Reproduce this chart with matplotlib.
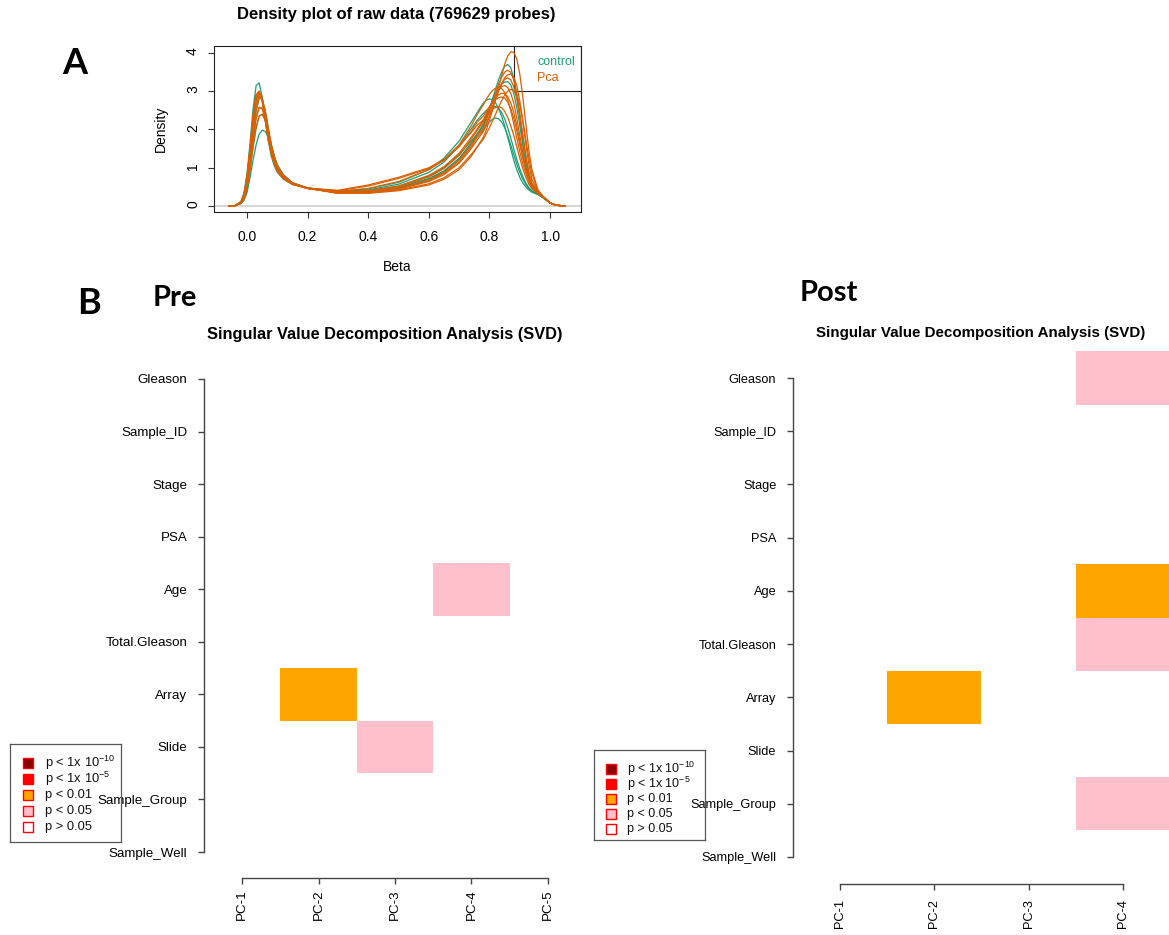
import matplotlib
matplotlib.use('Agg')
import matplotlib.pyplot as plt
from matplotlib.colors import ListedColormap, BoundaryNorm
from matplotlib.patches import Rectangle
import numpy as np

W, H = 1169, 935
plt.rcParams['font.family'] = ['Liberation Sans', 'DejaVu Sans']
plt.rcParams['mathtext.default'] = 'regular'

# ---- panel A: density curves (shared beta grid) ----
beta = [-0.06, -0.04, -0.02, -0.01, 0.00, 0.01, 0.02, 0.03, 0.04, 0.05, 0.06, 0.07,
        0.08, 0.09, 0.10, 0.12, 0.15, 0.20, 0.30, 0.40, 0.50, 0.60, 0.65, 0.70,
        0.74, 0.76, 0.78, 0.79, 0.80, 0.81, 0.82, 0.83, 0.84, 0.85, 0.86, 0.87,
        0.88, 0.89, 0.90, 0.91, 0.92, 0.93, 0.94, 0.96, 0.98, 1.00, 1.02, 1.05]

control_curves = [
    [0, 0.01, 0.12, 0.35, 0.85, 1.65, 2.55, 3.15, 3.22, 2.85, 2.25, 1.7, 1.3, 1.05, 0.88, 0.7, 0.56, 0.47,
     0.36, 0.38, 0.48, 0.72, 0.92, 1.25, 1.65, 1.9,
     2.1, 2.3, 2.55, 2.8, 3.05, 3.3, 3.5, 3.65, 3.7, 3.62, 3.35, 2.9, 2.3, 1.65, 1.1, 0.72, 0.5, 0.32, 0.2, 0.07, 0.02, 0],
    [0, 0.01, 0.06, 0.15, 0.35, 0.75, 1.2, 1.6, 1.88, 1.98, 1.95, 1.8, 1.55, 1.3, 1.08, 0.82, 0.61, 0.47,
     0.38, 0.45, 0.62, 0.95, 1.25, 1.7, 2.2, 2.45,
     2.7, 2.77, 2.8, 2.78, 2.7, 2.55, 2.35, 2.1, 1.8, 1.5, 1.2, 0.95, 0.75, 0.6, 0.5, 0.42, 0.36, 0.3, 0.2, 0.08, 0.02, 0],
    [0, 0.01, 0.1, 0.28, 0.7, 1.4, 2.2, 2.75, 2.95, 2.8, 2.35, 1.85, 1.45, 1.15, 0.95, 0.74, 0.58, 0.47,
     0.37, 0.4, 0.52, 0.78, 1.0, 1.35, 1.7, 1.88,
     2.0, 2.1, 2.2, 2.27, 2.3, 2.28, 2.2, 2.05, 1.85, 1.6, 1.35, 1.1, 0.88, 0.7, 0.56, 0.45, 0.38, 0.3, 0.2, 0.08, 0.02, 0],
    [0, 0.01, 0.08, 0.22, 0.55, 1.15, 1.9, 2.5, 2.82, 2.8, 2.5, 2.05, 1.6, 1.25, 1.0, 0.76, 0.58, 0.46,
     0.35, 0.37, 0.47, 0.7, 0.9, 1.22, 1.62, 1.88,
     2.15, 2.35, 2.55, 2.75, 2.93, 3.08, 3.18, 3.24, 3.25, 3.17, 2.95, 2.58, 2.1, 1.6, 1.15, 0.8, 0.56, 0.34, 0.22, 0.08, 0.02, 0],
    [0, 0.01, 0.07, 0.18, 0.45, 0.95, 1.55, 2.05, 2.35, 2.4, 2.25, 1.95, 1.6, 1.3, 1.05, 0.8, 0.6, 0.47,
     0.37, 0.42, 0.57, 0.88, 1.15, 1.58, 2.02, 2.25,
     2.42, 2.5, 2.56, 2.6, 2.6, 2.55, 2.45, 2.28, 2.05, 1.78, 1.5, 1.22, 0.97, 0.77, 0.6, 0.48, 0.4, 0.31, 0.21, 0.08, 0.02, 0],
]

pca_curves = [
    [0, 0.01, 0.1, 0.3, 0.75, 1.5, 2.35, 2.9, 3.0, 2.75, 2.25, 1.75, 1.38, 1.1, 0.92, 0.72, 0.57, 0.46,
     0.33, 0.33, 0.4, 0.55, 0.7, 0.95, 1.3, 1.55,
     1.8, 2.0, 2.25, 2.5, 2.8, 3.1, 3.4, 3.7, 3.92, 4.03, 4.02, 3.85, 3.45, 2.85, 2.15, 1.45, 0.95, 0.42, 0.22, 0.08, 0.02, 0],
    [0, 0.01, 0.1, 0.29, 0.72, 1.45, 2.25, 2.8, 2.96, 2.78, 2.32, 1.82, 1.43, 1.14, 0.94, 0.73, 0.57, 0.46,
     0.35, 0.37, 0.46, 0.68, 0.88, 1.2, 1.6, 1.85,
     2.05, 2.25, 2.48, 2.72, 2.95, 3.18, 3.36, 3.5, 3.55, 3.5, 3.3, 2.95, 2.45, 1.85, 1.3, 0.85, 0.58, 0.35, 0.22, 0.08, 0.02, 0],
    [0, 0.01, 0.08, 0.22, 0.55, 1.15, 1.9, 2.5, 2.82, 2.8, 2.5, 2.05, 1.6, 1.25, 1.0, 0.76, 0.58, 0.46,
     0.36, 0.39, 0.5, 0.76, 0.98, 1.32, 1.75, 1.98,
     2.2, 2.38, 2.56, 2.74, 2.9, 3.03, 3.12, 3.15, 3.1, 2.95, 2.7, 2.3, 1.85, 1.4, 1.0, 0.7, 0.5, 0.33, 0.22, 0.08, 0.02, 0],
    [0, 0.01, 0.08, 0.2, 0.5, 1.05, 1.75, 2.3, 2.58, 2.55, 2.3, 1.95, 1.55, 1.25, 1.02, 0.78, 0.6, 0.47,
     0.34, 0.35, 0.42, 0.58, 0.74, 1.0, 1.35, 1.55,
     1.75, 1.9, 2.05, 2.22, 2.4, 2.58, 2.75, 2.9, 3.0, 3.05, 3.02, 2.9, 2.65, 2.25, 1.75, 1.25, 0.85, 0.4, 0.22, 0.08, 0.02, 0],
    [0, 0.01, 0.1, 0.3, 0.75, 1.5, 2.35, 2.9, 3.0, 2.75, 2.25, 1.75, 1.38, 1.1, 0.92, 0.72, 0.57, 0.46,
     0.4, 0.52, 0.72, 0.98, 1.2, 1.55, 1.95, 2.2,
     2.35, 2.48, 2.6, 2.7, 2.78, 2.83, 2.85, 2.82, 2.72, 2.55, 2.3, 1.98, 1.6, 1.25, 0.95, 0.7, 0.52, 0.34, 0.22, 0.08, 0.02, 0],
    [0, 0.01, 0.07, 0.18, 0.45, 0.95, 1.55, 2.05, 2.35, 2.4, 2.25, 1.95, 1.6, 1.3, 1.05, 0.8, 0.6, 0.47,
     0.33, 0.35, 0.44, 0.64, 0.82, 1.12, 1.5, 1.73,
     1.95, 2.15, 2.37, 2.6, 2.82, 3.03, 3.2, 3.31, 3.35, 3.3, 3.12, 2.8, 2.35, 1.8, 1.3, 0.88, 0.6, 0.36, 0.22, 0.08, 0.02, 0],
    [0, 0.01, 0.1, 0.28, 0.7, 1.4, 2.2, 2.75, 2.95, 2.8, 2.35, 1.85, 1.45, 1.15, 0.95, 0.74, 0.58, 0.47,
     0.41, 0.55, 0.75, 1.0, 1.22, 1.58, 1.92, 2.12,
     2.25, 2.35, 2.45, 2.53, 2.58, 2.6, 2.57, 2.48, 2.32, 2.1, 1.85, 1.55, 1.25, 0.98, 0.75, 0.57, 0.45, 0.32, 0.22, 0.08, 0.02, 0],
    [0, 0.01, 0.08, 0.2, 0.5, 1.05, 1.75, 2.3, 2.58, 2.55, 2.3, 1.95, 1.55, 1.25, 1.02, 0.78, 0.6, 0.47,
     0.35, 0.36, 0.45, 0.66, 0.85, 1.15, 1.55, 1.8,
     1.98, 2.15, 2.35, 2.56, 2.78, 3.0, 3.2, 3.35, 3.43, 3.45, 3.37, 3.15, 2.75, 2.2, 1.6, 1.08, 0.7, 0.38, 0.22, 0.08, 0.02, 0],
    [0, 0.01, 0.1, 0.3, 0.75, 1.5, 2.35, 2.9, 3.0, 2.75, 2.25, 1.75, 1.38, 1.1, 0.92, 0.72, 0.57, 0.46,
     0.36, 0.4, 0.52, 0.8, 1.03, 1.38, 1.8, 2.02,
     2.25, 2.42, 2.58, 2.72, 2.83, 2.91, 2.95, 2.94, 2.86, 2.7, 2.45, 2.1, 1.7, 1.3, 0.95, 0.68, 0.5, 0.33, 0.22, 0.08, 0.02, 0],
    [0, 0.01, 0.09, 0.26, 0.65, 1.3, 2.1, 2.65, 2.88, 2.78, 2.4, 1.9, 1.5, 1.18, 0.96, 0.75, 0.58, 0.46,
     0.38, 0.46, 0.64, 0.95, 1.2, 1.6, 2.1, 2.4,
     2.65, 2.8, 2.92, 3.02, 3.08, 3.1, 3.07, 2.97, 2.78, 2.5, 2.15, 1.78, 1.42, 1.1, 0.85, 0.64, 0.5, 0.34, 0.22, 0.08, 0.02, 0],
]

# ---- panel B: SVD significance grids ----
svd_rows = ['Gleason', 'Sample_ID', 'Stage', 'PSA', 'Age', 'Total.Gleason',
            'Array', 'Slide', 'Sample_Group', 'Sample_Well']
pre_pcs = ['PC-1', 'PC-2', 'PC-3', 'PC-4', 'PC-5']
post_pcs = ['PC-1', 'PC-2', 'PC-3', 'PC-4']
# 0: p > 0.05, 1: p < 0.05, 2: p < 0.01, 3: p < 1e-5, 4: p < 1e-10
pre_sig = [
    [0, 0, 0, 0, 0],
    [0, 0, 0, 0, 0],
    [0, 0, 0, 0, 0],
    [0, 0, 0, 0, 0],
    [0, 0, 0, 1, 0],
    [0, 0, 0, 0, 0],
    [0, 2, 0, 0, 0],
    [0, 0, 1, 0, 0],
    [0, 0, 0, 0, 0],
    [0, 0, 0, 0, 0],
]
post_sig = [
    [0, 0, 0, 1],
    [0, 0, 0, 0],
    [0, 0, 0, 0],
    [0, 0, 0, 0],
    [0, 0, 0, 2],
    [0, 0, 0, 1],
    [0, 2, 0, 0],
    [0, 0, 0, 0],
    [0, 0, 0, 1],
    [0, 0, 0, 0],
]
level_colors = ['white', 'pink', 'orange', 'red', 'darkred']
legend_labels = [r'p < 1x 10$^{-10}$', r'p < 1x 10$^{-5}$', 'p < 0.01', 'p < 0.05', 'p > 0.05']
legend_colors = ['darkred', 'red', 'orange', 'pink', 'white']

green, orange = '#1B9E77', '#D95F02'


def fig_box(x0, y0, x1, y1):
    return [x0 / W, 1 - y1 / H, (x1 - x0) / W, (y1 - y0) / H]


def fig_text(fig, x, y, s, **kw):
    fig.text(x / W, 1 - y / H, s, **kw)


fig = plt.figure(figsize=(W / 100, H / 100), dpi=100)

# ---- density plot ----
ax = fig.add_axes(fig_box(214, 46, 581, 212))
for c in control_curves:
    ax.plot(beta, c, color=green, lw=0.9)
for c in pca_curves:
    ax.plot(beta, c, color=orange, lw=0.9)
ax.axhline(0, color='#d0d0d0', lw=1.2, zorder=0)
ax.set_xlim(-0.109, 1.102)
ax.set_ylim(-0.157, 4.183)
ax.set_xticks([0.0, 0.2, 0.4, 0.6, 0.8, 1.0])
ax.set_yticks([0, 1, 2, 3, 4])
ax.tick_params(axis='both', length=4, width=0.8, labelsize=10, color='#333333')
ax.tick_params(axis='x', pad=9)
ax.tick_params(axis='y', pad=6, labelrotation=90)
for sp in ax.spines.values():
    sp.set_linewidth(0.8)
    sp.set_color('#222222')
ax.add_patch(Rectangle((0.88, 3.0), 1.102 - 0.88, 4.183 - 3.0, fill=False,
                       edgecolor='#222222', lw=0.8))
ax.text(0.957, 3.77, 'control', color=green, fontsize=9, va='center')
ax.text(0.957, 3.35, 'Pca', color=orange, fontsize=9, va='center')

fig_text(fig, 396, 15, 'Density plot of raw data (769629 probes)', fontsize=12,
         fontweight='bold', ha='center', va='center')
fig_text(fig, 397, 267, 'Beta', fontsize=10, ha='center', va='center')
fig_text(fig, 161, 129, 'Density', fontsize=10, rotation=90, ha='center', va='center')

# ---- SVD panels ----
cmap = ListedColormap(level_colors)
norm = BoundaryNorm(np.arange(-0.5, 5.5), cmap.N)


def svd_panel(box, sig, pcs, fs, tfs, title_xy, xpad, ypad):
    a = fig.add_axes(fig_box(*box))
    n = len(pcs)
    a.pcolormesh(np.arange(0.5, n + 1), np.arange(0.5, len(svd_rows) + 1), np.array(sig),
                 cmap=cmap, norm=norm, linewidth=0, antialiased=False)
    a.set_xlim(0.5, n + 0.5)
    a.set_ylim(len(svd_rows) + 0.5, 0.5)
    a.set_xticks(range(1, n + 1), pcs)
    a.set_yticks(range(1, len(svd_rows) + 1), svd_rows)
    a.tick_params(axis='both', length=4.5, width=1.0, color='#444444', labelsize=fs)
    a.tick_params(axis='x', labelrotation=90, pad=xpad)
    a.tick_params(axis='y', pad=ypad)
    for s in ['top', 'right']:
        a.spines[s].set_visible(False)
    a.spines['left'].set_bounds(1, len(svd_rows))
    a.spines['bottom'].set_bounds(1, n)
    for s in ['left', 'bottom']:
        a.spines[s].set_color('#444444')
        a.spines[s].set_linewidth(1.0)
    fig_text(fig, title_xy[0], title_xy[1], 'Singular Value Decomposition Analysis (SVD)',
             fontsize=tfs, fontweight='bold', ha='center', va='center')
    return a


def sig_legend(box, fs, row0, dy, sq_x, txt_x):
    lax = fig.add_axes(fig_box(*box))
    w, h = box[2] - box[0], box[3] - box[1]
    lax.set_xlim(0, w)
    lax.set_ylim(h, 0)
    lax.set_xticks([])
    lax.set_yticks([])
    lax.patch.set_alpha(0)
    for sp in lax.spines.values():
        sp.set_color('#555555')
        sp.set_linewidth(0.9)
    for i, (c, lab) in enumerate(zip(legend_colors, legend_labels)):
        y = row0 + i * dy
        lax.add_patch(Rectangle((sq_x, y - 5), 10, 10, facecolor=c, edgecolor='red', lw=1))
        lax.text(txt_x, y, lab, fontsize=fs, va='center', color='#111111')


svd_panel((204, 352.7, 586, 878.3), pre_sig, pre_pcs, 9.6, 11.8, (385, 335), 3.5, 7.5)
svd_panel((793, 351.4, 1170, 883.6), post_sig, post_pcs, 9.2, 10.9, (981, 333), 6.5, 7.5)
sig_legend((10, 744, 121, 842), 9.3, 19, 16, 13, 35)
sig_legend((594, 750, 705, 840), 9.0, 19, 15, 12, 33)

# panel letters
fig_text(fig, 75, 64, 'A', fontsize=26, fontweight='bold', family='Lato', ha='center', va='center')
fig_text(fig, 89, 304, 'B', fontsize=26, fontweight='bold', family='Lato', ha='center', va='center')
fig_text(fig, 153, 298, 'Pre', fontsize=21, fontweight='bold', family='Lato', ha='left', va='center')
fig_text(fig, 800, 293, 'Post', fontsize=21, fontweight='bold', family='Lato', ha='left', va='center')

fig.savefig('out.png', dpi=100)
plt.close(fig)
